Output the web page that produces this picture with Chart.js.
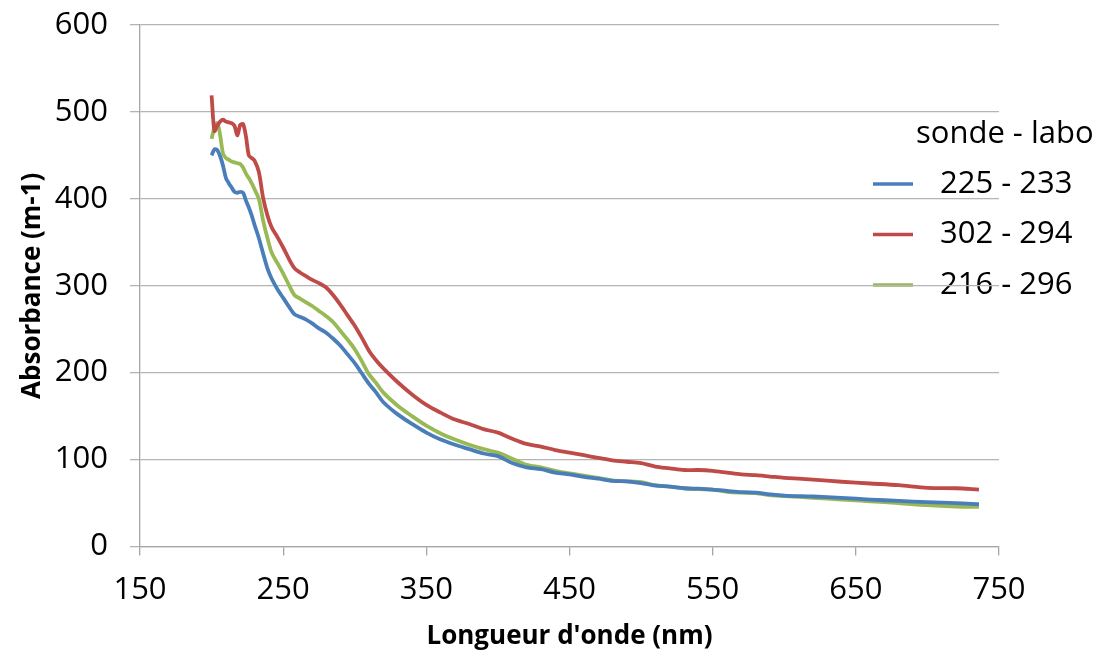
<!DOCTYPE html>
<html>
<head>
<meta charset="utf-8">
<script src="https://cdn.jsdelivr.net/npm/chart.js@4/dist/chart.umd.min.js"></script>
<style>
  html, body { margin: 0; padding: 0; background: #ffffff; }
  #wrap { width: 1095px; height: 650px; }
</style>
</head>
<body>
<div id="wrap"><canvas id="c" width="1095" height="650"></canvas></div>
<script>
// ---- Data ----
const WAVELENGTH = [200,202,204,206,208,210,212,214,216,218,220,222,224,226,228,230,
  233,236,239,242,246,250,254,258,262,266,270,275,280,285,290,295,300,305,310,315,320,
  330,340,350,360,370,380,390,400,410,420,430,440,450,460,470,480,490,500,510,520,530,540,
  550,560,570,580,590,600,620,640,660,680,700,720,736];

const ABS_225_233 = [450,457,456,449,438,424,418,413,408,407,408,407,398,390,381,370,
  355,337,320,308,296,286,276,267,264,261,257,251,246,239,231,221,211,199,187,177,166,
  152,141,131,123,117,112,107,104,96,91,89,85,83,80,78,75.5,75,73,70,69,67,66.5,
  65.5,64,62.5,62,60,58.5,57.5,56,54,52.5,51,50,48.6];

const ABS_302_294 = [519,478,484,489,491,489,488,487,484,473,485,486,472,450,447,444,
  431,401,381,367,356,344,331,320,315,311,307,303,298,289,278,266,254,240,225,214,205,
  189,175,163,154,146,141,135,131,124,118,115,111,108,105,102,99,97.5,96,92,90,88,88,
  87,85,83,82,80.5,79,77,74.5,72.5,70.5,67.5,67,65.5];

const ABS_216_296 = [469,482,487,473,452,447,445,443,442,441,440,436,429,424,418,411,
  400,375,355,338,326,314,301,289,285,281,277,271,265,258,248,238,227,213,198,188,177,
  162,150,139,130,123,117,112,108,101,94,91,87,84,81.5,79,76,75,74,70.5,69,67,66,
  65.5,63,62,61.5,59,58,56,54,52,50,47.5,46,45.5];

const SERIES_NAMES = ['225 - 233', '302 - 294', '216 - 296'];
const SERIES_COLORS = ['#4A7EBB', '#BE4B48', '#98B954'];
const LEGEND_TITLE = 'sonde - labo';
const X_TITLE = "Longueur d'onde (nm)";
const Y_TITLE = 'Absorbance (m-1)';
const X_RANGE = [150, 750];
const Y_RANGE = [0, 600];

function toPoints(xs, ys) { return xs.map((x, i) => ({ x: x, y: ys[i] })); }

const FONT = '"Open Sans", "DejaVu Sans", sans-serif';

const legendPlugin = {
  id: 'customLegend',
  beforeDraw(chart) {
    const ctx = chart.ctx;
    ctx.save();
    ctx.fillStyle = '#000000';
    ctx.font = '31px ' + FONT;
    ctx.textBaseline = 'middle';
    ctx.textAlign = 'left';
    ctx.fillText(LEGEND_TITLE, 916, 134);
    chart.data.datasets.forEach((ds, i) => {
      const y = 184 + i * 50.5;
      ctx.strokeStyle = ds.borderColor;
      ctx.lineWidth = 3.5;
      ctx.beginPath();
      ctx.moveTo(873, y);
      ctx.lineTo(913, y);
      ctx.stroke();
      ctx.fillStyle = '#000000';
      ctx.fillText(ds.label, 940, y);
    });
    ctx.restore();
  }
};

new Chart(document.getElementById('c'), {
  type: 'line',
  data: {
    datasets: [ABS_225_233, ABS_302_294, ABS_216_296].map((vals, i) => ({
      label: SERIES_NAMES[i],
      data: toPoints(WAVELENGTH, vals),
      borderColor: SERIES_COLORS[i],
      backgroundColor: SERIES_COLORS[i],
      borderWidth: 3.8,
      pointRadius: 0,
      tension: 0.3,
      fill: false
    }))
  },
  options: {
    responsive: false,
    animation: false,
    layout: { padding: { top: 25, right: 96, left: 0, bottom: 0 } },
    plugins: { legend: { display: false }, tooltip: { enabled: false } },
    scales: {
      x: {
        type: 'linear',
        min: X_RANGE[0], max: X_RANGE[1],
        ticks: { stepSize: 100, color: '#000000', font: { family: FONT, size: 31 }, padding: 16, maxRotation: 0 },
        grid: { drawOnChartArea: false, drawTicks: true, tickLength: 9, color: '#a6a6a6', lineWidth: 1.3 },
        border: { display: true, color: '#a6a6a6', width: 1.3 },
        title: { display: true, text: X_TITLE, color: '#000000',
                 font: { family: FONT, size: 26, weight: 'bold', lineHeight: 1.0 }, padding: { top: 0, bottom: 0 } },
        afterFit(scale) { scale.height = 103.5; scale.paddingLeft = 0; scale.paddingRight = 0; }
      },
      y: {
        min: Y_RANGE[0], max: Y_RANGE[1],
        ticks: { stepSize: 100, color: '#000000', font: { family: FONT, size: 31 }, padding: 22 },
        grid: { color: '#b4b4b4', lineWidth: 1.3, drawTicks: true, tickLength: 10 },
        border: { display: true, color: '#a6a6a6', width: 1.3 },
        title: { display: true, text: Y_TITLE, color: '#000000',
                 font: { family: FONT, size: 26, weight: 'bold', lineHeight: 1.0 }, padding: { top: 20, bottom: 0 } },
        afterFit(scale) { scale.width = 140; scale.paddingTop = 0; scale.paddingBottom = 0; }
      }
    }
  },
  plugins: [legendPlugin]
});
</script>
</body>
</html>
